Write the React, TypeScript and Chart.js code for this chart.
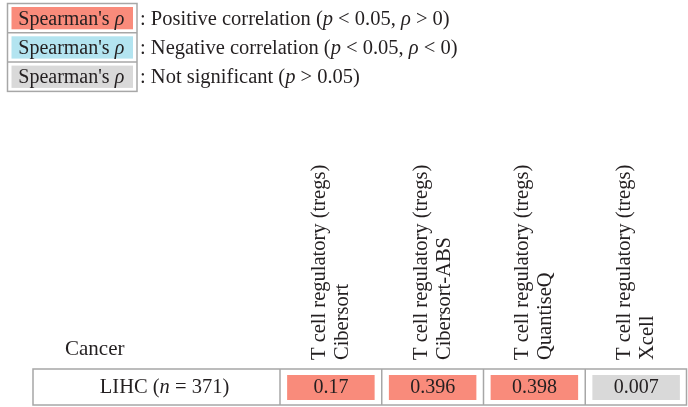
import { useEffect, useRef } from 'react';
import { Chart, registerables } from 'chart.js';
Chart.register(...registerables);

// ---- data ----
const methods = ['Cibersort', 'Cibersort-ABS', 'QuantiseQ', 'Xcell'];
const cellType = 'T cell regulatory (tregs)';
const cancerType = 'LIHC';
const sampleSize = 371;
const rhoValues = [0.17, 0.396, 0.398, 0.007];
const significance = ['positive', 'positive', 'positive', 'ns'];
const legendKeys = ['positive', 'negative', 'ns'];
const legendTexts = [
  [': Positive correlation (', 'p', ' < 0.05, ', 'ρ', ' > 0)'],
  [': Negative correlation (', 'p', ' < 0.05, ', 'ρ', ' < 0)'],
  [': Not significant (', 'p', ' > 0.05)'],
];
const colors: Record<string, string> = {
  positive: '#F98B7B',
  negative: '#B3E4F0',
  ns: '#D9D9D9',
};

const FONT = '"Liberation Serif", "Times New Roman", serif';
const SIZE = 20;

type Seg = [string, boolean];
function segs(parts: string[], italicIdx: (i: number) => boolean): Seg[] {
  return parts.map((p, i) => [p, italicIdx(i)] as Seg);
}
function drawRich(ctx: CanvasRenderingContext2D, s: Seg[], x: number, y: number, align: 'left' | 'center', size = SIZE) {
  ctx.textBaseline = 'alphabetic';
  ctx.textAlign = 'left';
  let total = 0;
  for (const [t, it] of s) {
    ctx.font = `${it ? 'italic ' : ''}${size}px ${FONT}`;
    total += ctx.measureText(t).width;
  }
  let cx = align === 'center' ? x - total / 2 : x;
  for (const [t, it] of s) {
    ctx.font = `${it ? 'italic ' : ''}${size}px ${FONT}`;
    ctx.fillText(t, cx, y);
    cx += ctx.measureText(t).width;
  }
}

const tablePlugin = {
  id: 'tablePlugin',
  afterDatasetsDraw(chart: any) {
    const ctx: CanvasRenderingContext2D = chart.ctx;
    const area = chart.chartArea;
    const xs = chart.scales.x;
    ctx.save();
    ctx.fillStyle = '#231F20';

    // legend
    const lgLeft = 7.5, lgRight = 137, rowH = 29.3, lgTop = 3.5;
    ctx.strokeStyle = '#A7A7A7';
    ctx.lineWidth = 1.5;
    ctx.strokeRect(lgLeft, lgTop, lgRight - lgLeft, rowH * 3);
    for (let i = 1; i < 3; i++) {
      ctx.beginPath();
      ctx.moveTo(lgLeft, lgTop + rowH * i);
      ctx.lineTo(lgRight, lgTop + rowH * i);
      ctx.stroke();
    }
    legendKeys.forEach((k, i) => {
      const top = lgTop + rowH * i;
      ctx.fillStyle = colors[k];
      ctx.fillRect(lgLeft + 4, top + 3.5, lgRight - lgLeft - 8, rowH - 7);
      ctx.fillStyle = '#231F20';
      drawRich(ctx, [["Spearman's ", false], ['ρ', true]], (lgLeft + lgRight) / 2 - 1, top + 21, 'center', 20);
      drawRich(ctx, segs(legendTexts[i], (j) => j % 2 === 1), 140, top + 21, 'left', 20.5);
    });

    // headers
    const n = methods.length;
    const colW = (area.right - area.left) / n;
    methods.forEach((m, i) => {
      const cx = xs.getPixelForValue(i);
      ctx.save();
      ctx.translate(cx - 6, 360);
      ctx.rotate(-Math.PI / 2);
      ctx.font = `20.5px ${FONT}`;
      ctx.textAlign = 'left';
      ctx.textBaseline = 'alphabetic';
      ctx.fillText(cellType, 0, 0);
      ctx.fillText(m, 0, 23);
      ctx.restore();
    });
    drawRich(ctx, [['Cancer', false]], 65, 355, 'left', 21);

    // table grid
    const tLeft = 33;
    ctx.strokeStyle = '#A7A7A7';
    ctx.lineWidth = 1.5;
    ctx.strokeRect(tLeft, area.top, area.right - tLeft - 0.5, area.bottom - area.top);
    for (let i = 0; i < n; i++) {
      const bx = area.left + colW * i;
      ctx.beginPath();
      ctx.moveTo(bx, area.top);
      ctx.lineTo(bx, area.bottom);
      ctx.stroke();
    }
    ctx.fillStyle = '#231F20';
    drawRich(ctx, [[cancerType + ' (', false], ['n', true], [' = ' + sampleSize + ')', false]], (tLeft + area.left) / 2 + 8, 393, 'center', 20.5);

    // values
    const meta = chart.getDatasetMeta(0);
    meta.data.forEach((bar: any, i: number) => {
      drawRich(ctx, [[String(rhoValues[i]), false]], bar.x, 393, 'center', 20);
    });
    ctx.restore();
  },
};

export default function App() {
  const ref = useRef<HTMLCanvasElement>(null);
  useEffect(() => {
    const chart = new Chart(ref.current!, {
      type: 'bar',
      data: {
        labels: methods,
        datasets: [
          {
            data: rhoValues.map(() => [0, 1]) as any,
            backgroundColor: significance.map((s) => colors[s]),
            borderWidth: 0,
            barPercentage: 0.86,
            categoryPercentage: 1,
          },
        ],
      },
      options: {
        responsive: false,
        animation: false,
        layout: { padding: { left: 280, right: 1, top: 369, bottom: 2 } },
        scales: {
          x: { display: false },
          y: { display: false, min: -0.2, max: 1.24 },
        },
        plugins: { legend: { display: false }, tooltip: { enabled: false } },
      },
      plugins: [tablePlugin],
    });
    return () => chart.destroy();
  }, []);
  return (
    <div style={{ position: 'absolute', left: 0, top: 0, width: 688, height: 407 }}>
      <canvas ref={ref} width={688} height={407} style={{ width: 688, height: 407, display: 'block' }} />
    </div>
  );
}
